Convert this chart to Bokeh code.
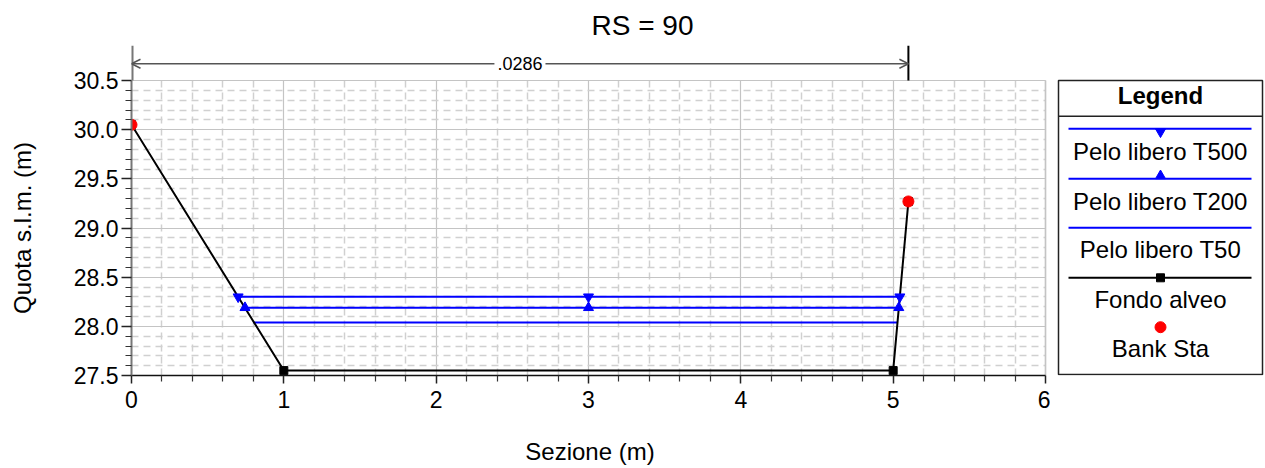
import math
from bokeh.plotting import figure
from bokeh.layouts import row
from bokeh.models import Range1d, FixedTicker, PrintfTickFormatter, Arrow, OpenHead, Label
from bokeh.core.properties import value
from bokeh.embed import file_html
from bokeh.resources import INLINE

FONT = "Liberation Sans"

# ---------------- data ----------------
title_text = "RS = 90"
x_label = "Sezione (m)"
y_label = "Quota s.l.m. (m)"

ground_x = [0.0, 1.0, 5.0, 5.1]
ground_y = [30.05, 27.55, 27.55, 29.27]
bank_x = [0.0, 5.1]
bank_y = [30.05, 29.27]
ws500_x = [0.70, 3.0, 5.044]
ws500_y = [28.30, 28.30, 28.30]
ws200_x = [0.745, 3.0, 5.037]
ws200_y = [28.19, 28.19, 28.19]
ws50_x = [0.80, 5.028]
ws50_y = [28.04, 28.04]
n_values = [".0286"]
n_x = [0.0, 5.1]

x_ticks = [0, 1, 2, 3, 4, 5, 6]
x_minor = [round(0.2 * i, 1) for i in range(31) if i % 5]
y_ticks = [27.5, 28.0, 28.5, 29.0, 29.5, 30.0, 30.5]
y_minor = [round(27.5 + 0.1 * i, 1) for i in range(31) if i % 5]

legend_title = "Legend"
legend_labels = ["Pelo libero T500", "Pelo libero T200", "Pelo libero T50", "Fondo alveo", "Bank Sta"]

# ---------------- layout constants ----------------
X_LO, X_HI = x_ticks[0], x_ticks[-1]
Y_LO, Y_HI, Y_TOP = y_ticks[0], y_ticks[-1], 30.856
ANN_Y = 30.67

AXIS_PX, RIGHT_PX = 131, 1045          # screen x of x=0 and x=6
PX = (RIGHT_PX - AXIS_PX) / (X_HI - X_LO)
PAD_R = 3                                # keeps the right grid border unclipped
FIG_H, BORDER_T, BORDER_B = 468, 45, 93
FH = FIG_H - BORDER_T - BORDER_B
W0 = 40                                  # y-title strip
W_MAIN_END = 1050
W1 = W_MAIN_END - W0
W2 = 1265 - W_MAIN_END

# ---------------- y title strip ----------------
yt = figure(width=W0, height=FIG_H, output_backend="svg", toolbar_location=None,
            x_range=Range1d(0, W0), y_range=Range1d(FH, 0),
            x_axis_type=None, y_axis_type=None,
            min_border_left=0, min_border_right=0,
            min_border_top=BORDER_T, min_border_bottom=BORDER_B)
yt.outline_line_color = None
yt.background_fill_color = "white"
yt.border_fill_color = "white"
yt.text(x=[21.7], y=[227.5 - BORDER_T], text=[y_label], angle=math.pi / 2,
        text_align="center", text_baseline="middle",
        text_font=value(FONT), text_font_size="24px", text_color="black")

# ---------------- main plot ----------------
frame_r = RIGHT_PX + PAD_R
p = figure(width=W1, height=FIG_H, output_backend="svg", toolbar_location=None,
           x_range=Range1d(X_LO, X_HI + PAD_R / PX), y_range=Range1d(Y_LO, Y_TOP),
           min_border_left=AXIS_PX - W0, min_border_right=W_MAIN_END - frame_r,
           min_border_top=BORDER_T, min_border_bottom=BORDER_B)
p.outline_line_color = None
p.background_fill_color = "white"
p.border_fill_color = "white"

p.title.text = title_text
p.title.align = "left"
p.title.offset = 591 - AXIS_PX
p.title.text_font = FONT
p.title.text_font_size = "28px"
p.title.text_font_style = "normal"
p.title.text_color = "black"
p.title.standoff = 9

p.xaxis.ticker = FixedTicker(ticks=x_ticks, minor_ticks=x_minor)
p.yaxis.ticker = FixedTicker(ticks=y_ticks, minor_ticks=y_minor)
p.yaxis.formatter = PrintfTickFormatter(format="%.1f")
p.yaxis.bounds = (Y_LO, Y_HI)
p.xaxis.bounds = (X_LO, X_HI)

for ax in (p.xaxis[0], p.yaxis[0]):
    ax.major_label_text_font = FONT
    ax.major_label_text_font_size = "23px"
    ax.major_label_text_color = "black"
    ax.axis_label_text_font = FONT
    ax.axis_label_text_font_size = "24px"
    ax.axis_label_text_font_style = "normal"
    ax.axis_label_text_color = "black"
    ax.major_tick_in = 0
    ax.minor_tick_in = 0
    ax.major_tick_line_color = "#222222"
    ax.minor_tick_line_color = "#333333"
    ax.major_tick_line_width = 1.5
    ax.minor_tick_line_width = 1.2

p.xaxis.axis_label = x_label
p.yaxis.axis_line_color = "#777777"
p.yaxis.axis_line_width = 2
p.yaxis.major_tick_out = 10
p.yaxis.minor_tick_out = 6
p.yaxis.major_label_standoff = 3
p.xaxis.axis_line_color = "#111111"
p.xaxis.axis_line_width = 1.5
p.xaxis.major_tick_out = 8
p.xaxis.minor_tick_out = 6
p.xaxis.major_label_standoff = 7
p.xaxis.axis_label_standoff = 27

p.xgrid.grid_line_color = "#c4c4c4"
p.xgrid.grid_line_width = 1.2
p.xgrid.minor_grid_line_color = "#d0d0d0"
p.xgrid.minor_grid_line_width = 1.5
p.xgrid.minor_grid_line_dash = "7 5"
p.xgrid.cross_bounds = (Y_LO, Y_HI)
p.ygrid.grid_line_color = "#c4c4c4"
p.ygrid.grid_line_width = 1.2
p.ygrid.minor_grid_line_color = "#d0d0d0"
p.ygrid.minor_grid_line_width = 1.5
p.ygrid.minor_grid_line_dash = "7 5"
p.ygrid.cross_bounds = (X_LO, X_HI)

# right border of the grid area and axis extension / bank marker bars
p.segment(x0=[X_HI], y0=[Y_LO], x1=[X_HI], y1=[Y_HI], line_color="#c4c4c4", line_width=1.5)
p.segment(x0=[n_x[0]], y0=[Y_HI], x1=[n_x[0]], y1=[Y_TOP], line_color="#777777", line_width=4)
p.segment(x0=[n_x[1]], y0=[Y_HI], x1=[n_x[1]], y1=[Y_TOP], line_color="black", line_width=2)

# Manning's n annotation
p.add_layout(Arrow(start=OpenHead(size=9, line_color="#555555", line_width=1.5),
                   end=OpenHead(size=9, line_color="#555555", line_width=1.5),
                   x_start=n_x[0], y_start=ANN_Y, x_end=n_x[1], y_end=ANN_Y,
                   line_color="#555555", line_width=1.5))
p.add_layout(Label(x=(n_x[0] + n_x[1]) / 2, y=ANN_Y, text=n_values[0],
                   text_align="center", text_baseline="middle", text_font=FONT,
                   text_font_size="18px", text_color="black",
                   background_fill_color="white", padding=3))

# data
p.line(ws50_x, ws50_y, line_color="blue", line_width=2)
p.line(ws200_x, ws200_y, line_color="blue", line_width=2)
p.line(ws500_x, ws500_y, line_color="blue", line_width=2)
p.line(ground_x, ground_y, line_color="black", line_width=2)
p.scatter(ws200_x, ws200_y, marker="triangle", size=10, color="blue")
p.scatter(ws500_x, ws500_y, marker="inverted_triangle", size=10, color="blue")
p.scatter(ground_x, ground_y, marker="square", size=8, color="black")
p.scatter(bank_x, bank_y, marker="circle", size=11, color="red")

# ---------------- legend panel (pixel-like coordinates) ----------------
lg = figure(width=W2, height=FIG_H, output_backend="svg", toolbar_location=None,
            x_range=Range1d(0, W2), y_range=Range1d(FH, 0),
            x_axis_type=None, y_axis_type=None,
            min_border_left=0, min_border_right=0,
            min_border_top=BORDER_T, min_border_bottom=BORDER_B)
lg.outline_line_color = None
lg.background_fill_color = "white"
lg.border_fill_color = "white"

bx0, bx1, by0, by1 = 8, 212, 35, 329
cx = (bx0 + bx1) / 2
lg.quad(left=[bx0], right=[bx1], top=[by0], bottom=[by1], fill_color="white",
        line_color="#222222", line_width=1.5)
lg.text(x=[cx], y=[50], text=[legend_title], text_align="center", text_baseline="middle",
        text_font=value(FONT), text_font_size="24px", text_font_style="bold", text_color="black")
lg.segment(x0=[bx0], y0=[70.7], x1=[bx1], y1=[70.7], line_color="#222222", line_width=1.5)

line_y = [83.3, 133.3, 182.3, 232.3]
text_y = [106, 156, 204, 254, 303.3]
line_colors = ["blue", "blue", "blue", "black"]
for yy, c in zip(line_y, line_colors):
    lg.segment(x0=[bx0 + 10], y0=[yy], x1=[bx1 - 11], y1=[yy], line_color=c, line_width=2)
lg.scatter([cx], [line_y[0] + 3], marker="inverted_triangle", size=10, color="blue")
lg.scatter([cx], [line_y[1] - 3], marker="triangle", size=10, color="blue")
lg.scatter([cx], [line_y[3]], marker="square", size=8, color="black")
lg.scatter([cx], [281.7], marker="circle", size=11, color="red")
lg.text(x=[cx] * 5, y=text_y, text=legend_labels, text_align="center", text_baseline="middle",
        text_font=value(FONT), text_font_size="24px", text_color="black")

layout = row(yt, p, lg)
open("out.html", "w").write(file_html(layout, INLINE))
